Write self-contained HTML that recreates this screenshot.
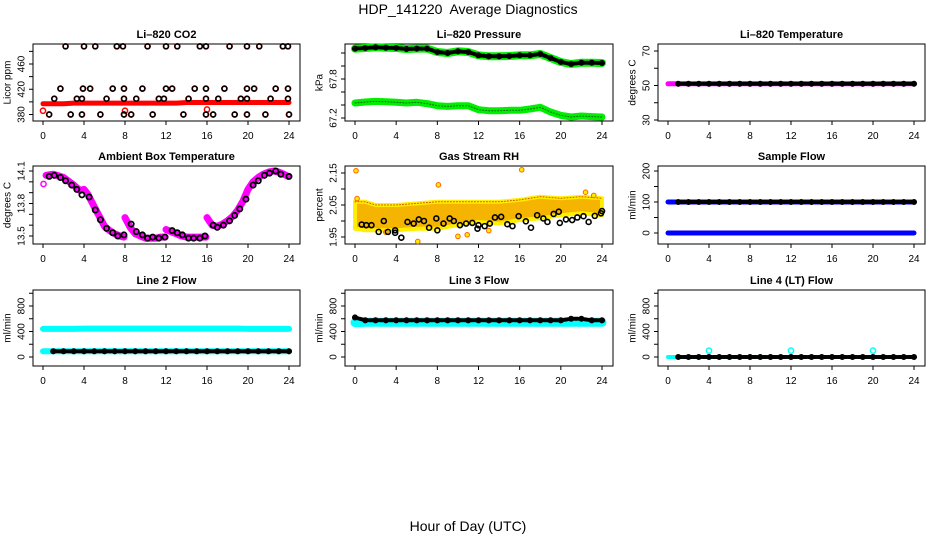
<!DOCTYPE html>
<html><head><meta charset="utf-8">
<style>
html,body{margin:0;padding:0;background:#fff;}
svg{display:block;font-family:"Liberation Sans",Arial,sans-serif;}
</style></head>
<body>
<svg id="chart" width="936" height="540" viewBox="0 0 936 540" xmlns="http://www.w3.org/2000/svg">
<text x="468" y="14" text-anchor="middle" font-size="14">HDP_141220&#160; Average Diagnostics</text>
<text x="468" y="531" text-anchor="middle" font-size="14">Hour of Day (UTC)</text>
</svg>
<script>
// ---------- data ----------
const hours = [0,1,2,3,4,5,6,7,8,9,10,11,12,13,14,15,16,17,18,19,20,21,22,23,24];
const xTicks = [0,4,8,12,16,20,24];

// CO2
const co2Red = [397,397,397,398,398,398,398,398,398,398,398,398,398,398,399,399,399,399,399,399,399,399,399,399,399];
const co2RedOutHours = [0,8,16];
const co2RedOutVals = [386,386,388];
const co2BlackHours = [2.2,4.0,5.1,7.2,7.8,10.2,12.0,13.1,15.3,15.9,18.2,19.9,21.1,23.4,23.9,
 1.7,3.9,4.6,6.8,7.9,9.7,12.0,12.6,14.8,15.9,17.7,19.9,20.6,22.7,23.9,
 1.1,3.3,3.8,6.2,7.9,9.1,11.3,11.8,14.2,15.9,17.1,19.3,19.9,22.2,23.9,
 0.6,2.7,3.8,5.6,7.9,8.6,10.7,13.7,15.9,16.6,18.7,19.9,21.7,24.0];
const co2BlackVals = [488,488,488,488,488,488,488,488,488,488,488,488,488,488,488,
 421,421,421,421,421,421,421,421,421,421,421,421,421,421,421,
 405,405,405,405,405,405,405,405,405,405,405,405,405,405,405,
 380,380,380,380,380,380,380,380,380,380,380,380,380,380];

// Pressure
const presUpper = [68.267,68.277,68.287,68.282,68.277,68.262,68.267,68.267,68.215,68.2,68.226,68.215,68.164,68.149,68.149,68.154,68.164,68.164,68.185,68.123,68.062,68.031,68.051,68.051,68.046];
const presLower = [67.431,67.446,67.456,67.451,67.441,67.431,67.441,67.421,67.39,67.379,67.39,67.39,67.328,67.313,67.313,67.318,67.318,67.338,67.364,67.292,67.241,67.215,67.231,67.221,67.215];

// Li-820 temperature
const tempMag = [51,51,51,51,51,51,51,51,51,51,51,51,51,51,51,51,51,51,51,51,51,51,51,51,51];
const tempBlack = [51,51,51,51,51,51,51,51,51,51,51,51,51,51,51,51,51,51,51,51,51,51,51,51,51];

// Ambient box temperature
const ambHours = [0.6,1.1,1.7,2.2,2.8,3.3,3.8,4.5,5.1,5.6,6.2,6.8,7.3,7.9,8.6,9.1,9.7,10.2,10.7,11.3,11.9,12.6,13.1,13.6,14.2,14.7,15.3,15.8,16.6,17.0,17.6,18.2,18.7,19.2,19.8,20.5,21.0,21.6,22.1,22.7,23.2,24.0];
const ambVals = [14.05,14.06,14.04,14.01,13.97,13.93,13.88,13.86,13.74,13.65,13.57,13.53,13.50,13.51,13.61,13.54,13.51,13.48,13.49,13.48,13.49,13.55,13.53,13.51,13.48,13.48,13.48,13.50,13.60,13.58,13.60,13.64,13.69,13.75,13.84,13.97,14.01,14.06,14.08,14.10,14.07,14.05];
const ambMagHours = [0.3,1,2,3,3.6,4.0,4.4,5,5.5,6,6.5,7,7.5,7.9, 8.0,8.5,9,9.5,10,10.5,11,11.5,11.9, 12.0,12.5,13,13.5,14,14.5,15,15.5,15.9, 16.0,16.5,17,17.5,18,18.5,19,19.5,20,20.5,21,21.5,22,22.5,23,23.5,23.9];
const ambMagVals = [14.06,14.07,14.04,13.97,13.92,13.93,13.88,13.77,13.68,13.59,13.55,13.52,13.50,13.49, 13.67,13.58,13.52,13.50,13.48,13.48,13.48,13.49,13.49, 13.56,13.54,13.52,13.50,13.49,13.49,13.49,13.49,13.49, 13.67,13.60,13.59,13.61,13.64,13.68,13.74,13.82,13.93,14.0,14.04,14.07,14.09,14.10,14.09,14.07,14.05];
const ambMagSegments = [14,9,9,17];
const ambOutHours = [0.05];
const ambOutVals = [13.98];

// Gas stream RH
const rhBandHours = [0,1,2,4,6,8,10,12,14,16,18,20,22,24];
const rhBandHigh = [2.06,2.06,2.05,2.05,2.055,2.06,2.06,2.06,2.06,2.066,2.076,2.071,2.076,2.071];
const rhBandLow = [1.976,1.971,1.971,1.971,1.976,1.976,1.987,1.997,1.992,2.003,2.008,2.018,2.024,2.018];
const rhBlackHours = [0.65,1.1,1.6,2.3,2.8,3.2,3.9,3.9,4.5,5.1,5.7,6.2,6.7,7.2,7.9,8.0,8.6,9.2,9.6,10.2,10.8,11.4,11.9,12.0,12.6,13.1,13.6,14.2,14.8,15.3,15.9,16.6,17.1,17.7,18.3,18.7,19.3,19.8,19.9,20.5,21.1,21.6,22.2,22.7,23.3,23.9,24.0];
const rhBlackVals = [1.989,1.987,1.987,1.966,2.0,1.966,1.971,1.963,1.948,1.997,1.992,2.005,2.0,1.979,2.008,1.971,1.992,2.008,2.0,1.987,1.992,1.994,1.976,1.987,1.984,1.992,2.011,2.013,1.99,1.984,2.015,1.999,1.979,2.018,2.008,1.997,2.022,2.029,1.994,2.005,2.003,2.011,2.015,1.997,2.016,2.024,2.031];
const rhOutHours = [0.1,8.1,16.2,6.1,10.0,10.9,22.4,23.2,0.2,3.0,13.0];
const rhOutVals = [2.157,2.113,2.16,1.936,1.952,1.957,2.09,2.08,2.07,1.965,1.97];

// Sample flow
const sampBlack = [100,100,100,100,100,100,100,100,100,100,100,100,100,100,100,100,100,100,100,100,100,100,100,100,100];
const sampBlue = [0,0,0,0,0,0,0,0,0,0,0,0,0,0,0,0,0,0,0,0,0,0,0,0,0];

// Line flows
const l2Cyan = [440,440,440,440,445,445,445,445,445,445,445,445,445,445,445,445,445,445,445,445,440,440,440,440,440];
const l2Black = [90,90,90,90,90,90,90,90,90,90,90,90,90,90,90,90,90,90,90,90,90,90,90,90,90];
const l3Cyan = [540,545,545,545,545,545,545,545,545,545,545,545,545,545,545,545,545,545,545,545,545,545,545,545,545];
const l3Black = [620,575,575,575,575,575,575,575,575,575,575,575,575,575,575,575,575,575,575,575,575,600,600,575,575];
const l4Cyan = [0,0,0,0,100,0,0,0,0,0,0,0,100,0,0,0,0,0,0,0,100,0,0,0,0];
const l4Black = [0,0,0,0,0,0,0,0,0,0,0,0,0,0,0,0,0,0,0,0,0,0,0,0,0];

// ---------- layout ----------
const NS = "http://www.w3.org/2000/svg";
const svg = document.getElementById('chart');
const colX0 = [43,355,668], colX24 = [289,602,914];
const rowTB = [[44,121],[166,244],[290,366]];

function mk(tag, attrs, parent){
  const e = document.createElementNS(NS, tag);
  for (const k in attrs) e.setAttribute(k, attrs[k]);
  (parent||svg).appendChild(e);
  return e;
}

function panel(p){
  const g = mk('g', {});
  
  
  const x0 = colX0[p.col], x24 = colX24[p.col];
  const top = rowTB[p.row][0], bot = rowTB[p.row][1];
  const L = x0 - 10, R = x24 + 11;
  const xs = h => x0 + (x24 - x0) * h / 24;
  const ys = v => p.y1 + (v - p.v1) * (p.y2 - p.y1) / (p.v2 - p.v1);
  const box = mk('rect', {x:L, y:top, width:R-L, height:bot-top, fill:'none', stroke:'#000', 'stroke-width':1}, g);
  
  
  const title = mk('text', {x:(L+R)/2, y:top-6, 'text-anchor':'middle', 'font-size':11, 'font-weight':'bold'}, g);
  title.textContent = p.title;
  
  
  for (const t of xTicks){
    const tk = mk('line', {x1:xs(t), x2:xs(t), y1:bot, y2:bot+4, stroke:'#000'}, g);
    
    
    const tl = mk('text', {x:xs(t), y:bot+18, 'text-anchor':'middle', 'font-size':10}, g);
    tl.textContent = t;
    
    
  }
  for (const t of p.ticks){
    const yy = ys(t);
    const tk = mk('line', {x1:L-4, x2:L, y1:yy, y2:yy, stroke:'#000'}, g);
    
    
  }
  for (const t of p.labels){
    const yy = ys(t);
    const tl = mk('text', {x:0, y:0, 'text-anchor':'middle', 'dominant-baseline':'central', 'font-size':10, transform:`translate(${L-11},${yy}) rotate(-90)`}, g);
    tl.textContent = t;
    
    
  }
  const yl = mk('text', {x:0, y:0, 'text-anchor':'middle', 'dominant-baseline':'central', 'font-size':10, transform:`translate(${L-25},${(top+bot)/2}) rotate(-90)`}, g);
  yl.textContent = p.ylab;
  
  
  return {g, xs, ys};
}

function band(P, hs, vs, color, w, name, dash){
  const pts = hs.map((h,i)=>P.xs(h).toFixed(1)+','+P.ys(vs[i]).toFixed(1)).join(' ');
  const attrs = {points:pts, fill:'none', stroke:color, 'stroke-width':w, 'stroke-linejoin':'round', 'stroke-linecap':'round'};
  if (dash) attrs['stroke-dasharray'] = dash;
  const e = mk('polyline', attrs, P.g);
  
  
  return e;
}
function dots(P, hs, vs, stroke, fill, r, name, sw){
  hs.forEach((h,i)=>{
    const c = mk('circle', {cx:P.xs(h), cy:P.ys(vs[i]), r:r, fill:fill, stroke:stroke, 'stroke-width':sw||1.5}, P.g);
    
    
  });
}
function blackChain(P, hs, vs, name){
  band(P, hs, vs, '#000', 4, name + '-line', '3,2');
  dots(P, hs, vs, '#000', 'none', 2.4, name, 1.3);
}

let P = panel({name:'co2', title:'Li\u2013820 CO2', col:0, row:0, v1:380, y1:114.5, v2:460, y2:64, ticks:[380,400,420,440,460,480], labels:[380,420,460], ylab:'Licor ppm'});
band(P, hours, co2Red, '#ff0000', 5, 'co2-red-series');
dots(P, co2RedOutHours, co2RedOutVals, '#ff0000', 'none', 2.6, 'co2-red-point');
dots(P, co2BlackHours, co2BlackVals, '#ff0000', 'none', 2.6, 'co2-red-shadow');
dots(P, co2BlackHours, co2BlackVals, '#000', 'none', 2.4, 'co2-black-point', 1.6);

P = panel({name:'pressure', title:'Li\u2013820 Pressure', col:1, row:0, v1:67.2, y1:118, v2:67.8, y2:79, ticks:[67.2,67.4,67.6,67.8,68.0,68.2], labels:[67.2,67.8], ylab:'kPa'});
band(P, hours, presLower, '#00ee00', 7, 'pressure-green-lower');
band(P, hours, presUpper, '#00ee00', 8, 'pressure-green-upper');
band(P, hours, presLower, '#006600', 1, 'pressure-green-lower-texture', '1,2');
blackChain(P, hours, presUpper, 'pressure-black');

P = panel({name:'li820-temp', title:'Li\u2013820 Temperature', col:2, row:0, v1:30, y1:120, v2:70, y2:51, ticks:[30,40,50,60,70], labels:[30,50,70], ylab:'degrees C'});
band(P, hours, tempMag, '#ff00ff', 5, 'temp-magenta-series');
blackChain(P, hours.slice(1), tempBlack.slice(1), 'temp-black');

P = panel({name:'ambient-temp', title:'Ambient Box Temperature', col:0, row:1, v1:13.5, y1:236, v2:14.1, y2:171, ticks:[13.5,13.6,13.7,13.8,13.9,14.0,14.1], labels:[13.5,13.8,14.1], ylab:'degrees C'});
{
  let s = 0;
  for (const n of ambMagSegments){
    band(P, ambMagHours.slice(s,s+n), ambMagVals.slice(s,s+n), '#ff00ff', 7, 'ambient-magenta-series');
    s += n;
  }
}
dots(P, ambOutHours, ambOutVals, '#ff00ff', 'none', 2.6, 'ambient-magenta-point');
dots(P, ambHours, ambVals, '#000', 'none', 2.6, 'ambient-black-point', 1.8);

P = panel({name:'rh', title:'Gas Stream RH', col:1, row:1, v1:1.95, y1:237, v2:2.15, y2:173, ticks:[1.95,2.0,2.05,2.1,2.15], labels:['1.95','2.05','2.15'], ylab:'percent'});
{
  const up = rhBandHours.map((h,i)=>P.xs(h).toFixed(1)+','+P.ys(rhBandHigh[i]).toFixed(1));
  const dn = rhBandHours.map((h,i)=>P.xs(h).toFixed(1)+','+P.ys(rhBandLow[i]).toFixed(1)).reverse();
  const poly = mk('polygon', {points:up.concat(dn).join(' '), fill:'#f4b400', stroke:'#ffee00', 'stroke-width':4, 'stroke-linejoin':'round'}, P.g);
  
  
  band(P, rhBandHours, rhBandHigh, '#e05000', 1, 'rh-band-texture', '1,2');
}
dots(P, rhOutHours, rhOutVals, '#ff6600', '#ffee00', 2.3, 'rh-yellow-point', 1);
dots(P, rhBlackHours, rhBlackVals, '#000', 'none', 2.5, 'rh-black-point', 1.6);

P = panel({name:'sample-flow', title:'Sample Flow', col:2, row:1, v1:0, y1:233, v2:200, y2:171, ticks:[0,50,100,150,200], labels:[0,100,200], ylab:'ml/min'});
band(P, hours, sampBlue, '#0000ff', 5, 'sample-blue-series');
band(P, hours, sampBlack, '#0000ff', 5, 'sample-blue-upper');
blackChain(P, hours.slice(1), sampBlack.slice(1), 'sample-black');

P = panel({name:'line2-flow', title:'Line 2 Flow', col:0, row:2, v1:0, y1:357, v2:800, y2:306, ticks:[0,200,400,600,800,1000], labels:[0,400,800], ylab:'ml/min'});
band(P, hours, l2Cyan, '#00ffff', 6, 'line2-cyan-upper');
band(P, hours, l2Black, '#00ffff', 6, 'line2-cyan-lower');
blackChain(P, hours.slice(1), l2Black.slice(1), 'line2-black');

P = panel({name:'line3-flow', title:'Line 3 Flow', col:1, row:2, v1:0, y1:357, v2:800, y2:306, ticks:[0,200,400,600,800,1000], labels:[0,400,800], ylab:'ml/min'});
band(P, hours, l3Cyan, '#00ffff', 9, 'line3-cyan-series');
blackChain(P, hours, l3Black, 'line3-black');

P = panel({name:'line4-flow', title:'Line 4 (LT) Flow', col:2, row:2, v1:0, y1:357, v2:800, y2:306, ticks:[0,200,400,600,800,1000], labels:[0,400,800], ylab:'ml/min'});
band(P, hours, l4Black, '#00ffff', 4, 'line4-cyan-series');
dots(P, hours.filter((h,i)=>l4Cyan[i]>0), l4Cyan.filter(v=>v>0), '#00ffff', 'none', 2.6, 'line4-cyan-spike');
blackChain(P, hours.slice(1), l4Black.slice(1), 'line4-black');
</script>
</body></html>
